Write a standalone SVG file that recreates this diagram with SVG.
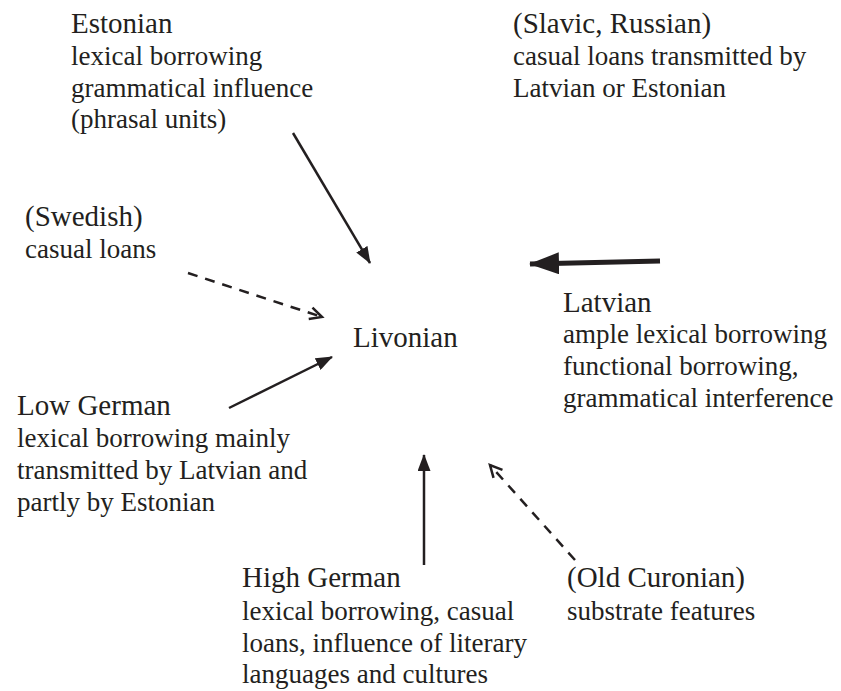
<svg xmlns="http://www.w3.org/2000/svg" width="841" height="691" viewBox="0 0 841 691">
<style>
  .t { font-family: 'Liberation Serif', 'DejaVu Serif', serif; fill: #231f20; }
  .h { font-size: 29px; }
  .s { font-size: 27px; }
  .solid { stroke: #231f20; stroke-width: 2.5; fill: none; }
  .dash { stroke: #231f20; stroke-width: 2.5; fill: none; stroke-dasharray: 10 8; }
  .thick { stroke: #231f20; stroke-width: 5; fill: none; }
</style>
<defs>
  <marker id="tri" markerUnits="userSpaceOnUse" markerWidth="17" markerHeight="13" refX="16" refY="6.5" orient="auto">
    <path d="M0,0 L17,6.5 L0,13 z" fill="#231f20"/>
  </marker>
  <marker id="bigtri" markerUnits="userSpaceOnUse" markerWidth="30" markerHeight="22" refX="29" refY="11" orient="auto">
    <path d="M0,0 L30,11 L0,22 z" fill="#231f20"/>
  </marker>
  <marker id="chev" markerUnits="userSpaceOnUse" markerWidth="16" markerHeight="16" refX="13" refY="8" orient="auto">
    <path d="M1,2 L13,8 L1,14" fill="none" stroke="#231f20" stroke-width="2.5"/>
  </marker>
</defs>
<rect width="841" height="691" fill="#ffffff"/>

<g id="connectors">
  <line class="solid" x1="293" y1="133" x2="370" y2="263" marker-end="url(#tri)"/>
  <line class="dash" x1="188" y1="273" x2="322" y2="317" marker-end="url(#chev)"/>
  <line class="solid" x1="229" y1="408" x2="332" y2="357" marker-end="url(#tri)"/>
  <line class="thick" x1="660" y1="261" x2="530" y2="264" marker-end="url(#bigtri)"/>
  <line class="solid" x1="424" y1="565" x2="424" y2="455" marker-end="url(#tri)"/>
  <line class="dash" x1="575" y1="560" x2="490" y2="465" marker-end="url(#chev)"/>
</g>

<g font-family="Liberation Serif, DejaVu Serif, serif" fill="#231f20">
<g id="livonian"><text class="t h" x="353" y="347">Livonian</text></g>

<g id="estonian">
  <text class="t h" x="71" y="33">Estonian</text>
  <text class="t s" x="71" y="65">lexical borrowing</text>
  <text class="t s" x="71" y="97">grammatical influence</text>
  <text class="t s" x="71" y="128">(phrasal units)</text>
</g>

<g id="slavic">
  <text class="t h" x="513" y="33">(Slavic, Russian)</text>
  <text class="t s" x="513" y="65">casual loans transmitted by</text>
  <text class="t s" x="513" y="97">Latvian or Estonian</text>
</g>

<g id="swedish">
  <text class="t h" x="25" y="226">(Swedish)</text>
  <text class="t s" x="25" y="258">casual loans</text>
</g>

<g id="latvian">
  <text class="t h" x="563" y="312">Latvian</text>
  <text class="t s" x="563" y="343">ample lexical borrowing</text>
  <text class="t s" x="563" y="375">functional borrowing,</text>
  <text class="t s" x="563" y="407">grammatical interference</text>
</g>

<g id="lowgerman">
  <text class="t h" x="17" y="415">Low German</text>
  <text class="t s" x="17" y="447">lexical borrowing mainly</text>
  <text class="t s" x="17" y="479">transmitted by Latvian and</text>
  <text class="t s" x="17" y="511">partly by Estonian</text>
</g>

<g id="highgerman">
  <text class="t h" x="242" y="587">High German</text>
  <text class="t s" x="242" y="620">lexical borrowing, casual</text>
  <text class="t s" x="242" y="652">loans, influence of literary</text>
  <text class="t s" x="242" y="683">languages and cultures</text>
</g>

<g id="oldcuronian">
  <text class="t h" x="567" y="587">(Old Curonian)</text>
  <text class="t s" x="567" y="620">substrate features</text>
</g>
</g>
</svg>
